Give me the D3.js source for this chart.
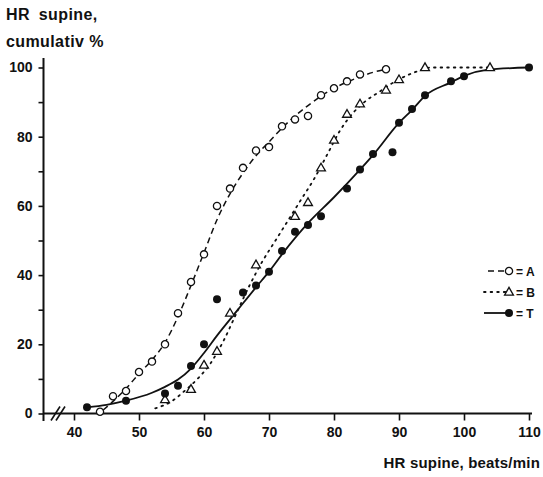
<!DOCTYPE html>
<html>
<head>
<meta charset="utf-8">
<script src="https://cdn.jsdelivr.net/npm/d3@7"></script>
<style>
  html, body { margin: 0; padding: 0; background: #fff; }
  svg { display: block; font-family: "Liberation Sans", Arial, sans-serif; }
</style>
</head>
<body>
<svg id="chart" width="543" height="477"></svg>
<script>
// 数据点 (HR supine, cumulativ %)
const aHR = [44, 46, 48, 50, 52, 54, 56, 58, 60, 62, 64, 66, 68, 70, 72, 74, 76, 78, 80, 82, 84, 88];
const aCum = [0.5, 5, 6.5, 12, 15, 20, 29, 38, 46, 60, 65, 71, 76, 77, 83, 85, 86, 92, 94, 96, 98, 99.5];

const bHR = [54, 58, 60, 62, 64, 68, 74, 76, 78, 80, 82, 84, 88, 90, 94, 104];
const bCum = [4, 7, 14, 18, 29, 43, 57, 61, 71, 79, 86.5, 89.5, 93.5, 96.5, 100, 100];

const tHR = [42, 48, 54, 56, 58, 60, 62, 66, 68, 70, 72, 74, 76, 78, 82, 84, 86, 89, 90, 92, 94, 98, 100, 110];
const tCum = [1.8, 3.7, 5.8, 8, 13.7, 20, 33, 35, 37, 41, 47, 52.5, 54.5, 57, 65, 70.5, 75, 75.5, 84, 88, 92, 96, 97.5, 100];

// 拟合曲线 (从图上读的)
const aCurveHR = [44.5, 46, 48, 50, 52, 54, 56, 58, 60, 62, 64, 66, 68, 70, 72, 74, 76, 78, 80, 82, 84, 86, 88];
const aCurveCum = [1, 3.5, 7.2, 11.5, 15.5, 20.5, 28, 37, 46.5, 56, 63.5, 69.5, 74.5, 78.5, 82.5, 86, 89, 91.7, 94, 95.8, 97.3, 98.6, 99.5];

const bCurveHR = [52.5, 55, 57, 59, 61, 63, 65, 67, 69, 71, 73, 75, 77, 79, 81, 83, 85, 87, 89, 91, 93, 95, 104];
const bCurveCum = [1.5, 3.5, 6.5, 10, 14.5, 21, 29, 37, 44, 50, 56, 62, 68, 75, 82, 87, 90.5, 93, 95.5, 97.5, 99, 100, 100];

const tCurveHR = [42, 45, 48, 52, 54, 56, 58, 60, 62, 65, 68, 70, 72, 76, 80, 84, 86, 90, 92, 94, 98, 100, 103.5, 110];
const tCurveCum = [1.8, 2.5, 3.7, 6, 7.7, 9.8, 13, 17.5, 22.5, 29.5, 36.5, 41, 46, 55, 62.5, 70.5, 74.7, 84, 87.7, 91.8, 95.7, 97.6, 99.3, 100];

const xTicks = [40, 50, 60, 70, 80, 90, 100, 110];
const yTicks = [0, 10, 20, 30, 40, 50, 60, 70, 80, 90, 100];
const yLabels = ["0", "", "20", "", "40", "", "60", "", "80", "", "100"];
const legendNames = ["A", "B", "T"];

class cumulativeChart {
  constructor({ ele }) {
    this._container = ele;
    this._ink = "#111";
    this._font = 14;
    this._x = d3.scaleLinear([40, 110], [74, 529]);
    this._y = d3.scaleLinear([0, 100], [413.5, 67.5]);
    this._series = [
      { name: "A", hr: aHR, cum: aCum, chr: aCurveHR, ccum: aCurveCum, dash: "6,4", width: 1.5, mark: "circle" },
      { name: "B", hr: bHR, cum: bCum, chr: bCurveHR, ccum: bCurveCum, dash: "1.6,5", width: 1.8, mark: "triangle" },
      { name: "T", hr: tHR, cum: tCum, chr: tCurveHR, ccum: tCurveCum, dash: null, width: 1.8, mark: "dot" },
    ];
  }

  render() {
    this.#initTitle();
    this.#initAxis();
    this.#initCurves();
    this.#initPoints();
    this.#initLegend();
  }

  #initTitle() {
    const g = this._container.append("g").attr("class", "titleG")
      .attr("font-weight", "bold").attr("font-size", 16).attr("fill", this._ink);
    g.append("text").attr("x", 6).attr("y", 20).attr("word-spacing", 4).attr("letter-spacing", 0.4).text("HR supine,");
    g.append("text").attr("x", 6).attr("y", 47).attr("letter-spacing", 0.4).text("cumulativ %");
    g.append("text").attr("x", 540).attr("y", 468).attr("text-anchor", "end")
      .attr("font-size", 15).attr("letter-spacing", 0.2).text("HR supine, beats/min");
  }

  #initAxis() {
    const { _x, _y, _ink, _font } = this;
    const xAxis = this._container.append("g").attr("class", "xAxis")
      .attr("transform", `translate(0, ${_y(0)})`)
      .call(d3.axisBottom(_x).tickValues(xTicks).tickSize(7).tickPadding(7));
    xAxis.select(".domain").remove();
    xAxis.selectAll("line").attr("stroke", _ink).attr("stroke-width", 1.6);
    xAxis.selectAll("text").attr("fill", _ink).attr("font-size", _font)
      .attr("font-weight", "bold").attr("font-family", "Liberation Sans, Arial, sans-serif");
    xAxis.append("line").attr("x1", 43.5).attr("x2", 532).attr("y1", 0).attr("y2", 0)
      .attr("stroke", _ink).attr("stroke-width", 2);
    // 断轴符号 //
    xAxis.selectAll(".brk").data([0, 5]).join("line").attr("class", "brk")
      .attr("x1", (d) => 51 + d).attr("y1", 7).attr("x2", (d) => 60 + d).attr("y2", -7)
      .attr("stroke", _ink).attr("stroke-width", 1.6);

    const yAxis = this._container.append("g").attr("class", "yAxis")
      .attr("transform", `translate(43.5, 0)`)
      .call(d3.axisLeft(_y).tickValues(yTicks).tickSize(5).tickPadding(6)
        .tickFormat((d, i) => yLabels[i]));
    yAxis.select(".domain").remove();
    yAxis.selectAll("line").attr("stroke", _ink).attr("stroke-width", 1.6);
    yAxis.selectAll("text").attr("fill", _ink).attr("font-size", _font)
      .attr("font-weight", "bold").attr("font-family", "Liberation Sans, Arial, sans-serif");
    yAxis.append("line").attr("x1", 0).attr("x2", 0).attr("y1", 58).attr("y2", 421)
      .attr("stroke", _ink).attr("stroke-width", 2);
  }

  #initCurves() {
    const { _x, _y, _ink } = this;
    const line = d3.line().x((d) => _x(d[0])).y((d) => _y(d[1])).curve(d3.curveMonotoneX);
    this._container.append("g").attr("class", "curveG")
      .selectAll("path").data(this._series).join("path")
      .attr("d", (s) => line(d3.zip(s.chr, s.ccum)))
      .attr("fill", "none").attr("stroke", _ink)
      .attr("stroke-width", (s) => s.width)
      .attr("stroke-linecap", (s) => (s.mark === "triangle" ? "round" : "butt"))
      .attr("stroke-dasharray", (s) => s.dash);
  }

  #drawMark(g, mark) {
    const { _ink } = this;
    if (mark === "circle") {
      g.append("circle").attr("r", 3.6).attr("fill", "#fff").attr("stroke", _ink).attr("stroke-width", 1.3);
    } else if (mark === "triangle") {
      g.append("path").attr("d", d3.symbol(d3.symbolTriangle, 34)())
        .attr("transform", "translate(0, 0.5)")
        .attr("fill", "#fff").attr("stroke", _ink).attr("stroke-width", 1.3);
    } else {
      g.append("circle").attr("r", 4).attr("fill", _ink);
    }
  }

  #initPoints() {
    const { _x, _y } = this;
    const that = this;
    this._container.append("g").attr("class", "pointG")
      .selectAll("g").data(this._series).join("g")
      .each(function (s) {
        d3.select(this).selectAll("g").data(d3.zip(s.hr, s.cum)).join("g")
          .attr("transform", (d) => `translate(${_x(d[0])}, ${_y(d[1])})`)
          .each(function () { that.#drawMark(d3.select(this), s.mark); });
      });
  }

  // 图例
  #initLegend() {
    const { _ink } = this;
    const that = this;
    const legendG = this._container.append("g").attr("class", "legendG")
      .attr("transform", "translate(484, 271)");
    legendG.selectAll("g").data(this._series).join("g")
      .attr("transform", (_, i) => `translate(0, ${i * 21})`)
      .each(function (s, i) {
        const g = d3.select(this);
        g.append("line").attr("x1", i === 0 ? 4 : 0).attr("x2", 22).attr("y1", 0).attr("y2", 0)
          .attr("stroke", _ink).attr("stroke-width", s.width)
          .attr("stroke-linecap", s.mark === "triangle" ? "round" : "butt")
          .attr("stroke-dasharray", s.dash);
        const m = g.append("g").attr("transform", "translate(25, 0)");
        that.#drawMark(m, s.mark);
        g.append("text").attr("x", 32).attr("y", 4.5).attr("font-size", 12)
          .attr("font-weight", "bold").attr("fill", _ink)
          .text(`= ${legendNames[i]}`);
      });
  }
}

new cumulativeChart({ ele: d3.select("#chart") }).render();
</script>
</body>
</html>
